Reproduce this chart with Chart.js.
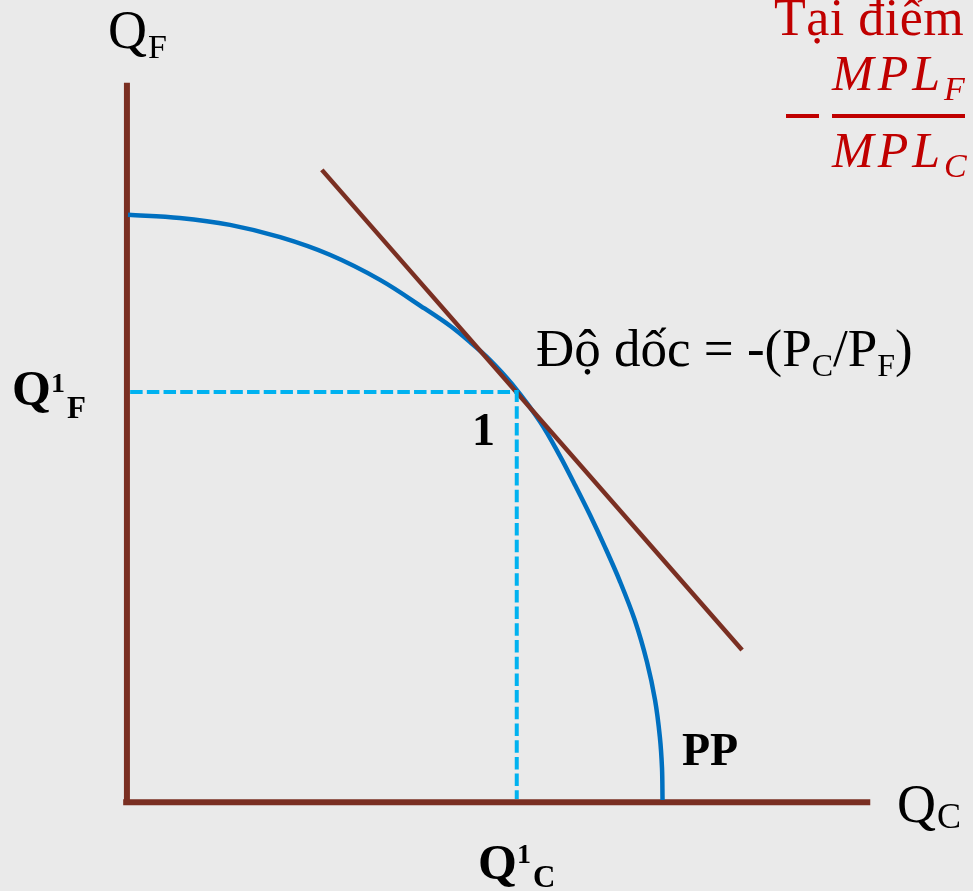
<!DOCTYPE html>
<html>
<head>
<meta charset="utf-8">
<script src="https://cdn.jsdelivr.net/npm/chart.js@4.4.1/dist/chart.umd.min.js"></script>
<style>
  html, body { margin: 0; padding: 0; background: #eaeaea; }
  #wrap { width: 973px; height: 891px; }
</style>
</head>
<body>
<div id="wrap"><canvas id="ppfChart" width="973" height="891"></canvas></div>
<script>
// production possibility frontier (Q_C across, Q_F up)
const ppQC = [0, 0.97, 1.91, 2.85, 3.78, 4.72, 5.56, 6.03, 6.40, 6.78, 7.19, 7.72, 8.09, 8.37,
              8.65, 8.93, 9.21, 9.49, 9.72, 9.87, 9.96, 10.0, 10.01];
const ppQF = [10.96, 10.90, 10.77, 10.54, 10.21, 9.74, 9.20, 8.88, 8.58, 8.24, 7.79, 7.08, 6.44, 5.90,
              5.34, 4.74, 4.10, 3.37, 2.58, 1.87, 1.18, 0.60, 0];

// price line touching the frontier at point 1
const tangentQC = [3.63, 11.50];
const tangentQF = [11.80, 2.81];

// point 1
const pointQC = [7.28];
const pointQF = [7.64];

// axis extents
const axisMaxQC = 13.9;
const axisMaxQF = 13.43;

const brown = '#7a2f22';
const blue = '#0070c0';
const lightBlue = '#00b2f0';

function toPoints(xs, ys) {
    return xs.map((x, i) => ({x: x, y: ys[i]}));
}

// text drawn as runs so sub/superscripts sit next to the main letter
function drawRuns(ctx, x, y, runs, color) {
    ctx.fillStyle = color || '#000';
    ctx.textBaseline = 'alphabetic';
    ctx.textAlign = 'left';
    runs.forEach(r => {
        ctx.font = r.font;
        ctx.letterSpacing = (r.spacing || 0) + 'px';
        ctx.fillText(r.text, x, y + (r.dy || 0));
        x += ctx.measureText(r.text).width + (r.gap || 0);
    });
    ctx.letterSpacing = '0px';
}

const serif = '"Liberation Serif", "Times New Roman", serif';

const labelPlugin = {
    id: 'ppfLabels',
    afterDatasetsDraw(chart) {
        const ctx = chart.ctx;
        ctx.save();
        // axis titles
        drawRuns(ctx, 108, 48, [
            {text: 'Q', font: '54px ' + serif, gap: 1},
            {text: 'F', font: '34px ' + serif, dy: 10}
        ]);
        drawRuns(ctx, 897, 822, [
            {text: 'Q', font: '54px ' + serif, gap: 1},
            {text: 'C', font: '36px ' + serif, dy: 6}
        ]);
        // values at point 1
        drawRuns(ctx, 12, 405, [
            {text: 'Q', font: 'bold 50px ' + serif},
            {text: '1', font: 'bold 28px ' + serif, dy: -13, gap: 2},
            {text: 'F', font: 'bold 31px ' + serif, dy: 13}
        ]);
        drawRuns(ctx, 478, 879, [
            {text: 'Q', font: 'bold 50px ' + serif},
            {text: '1', font: 'bold 28px ' + serif, dy: -16, gap: 2},
            {text: 'C', font: 'bold 31px ' + serif, dy: 8}
        ]);
        drawRuns(ctx, 472, 445, [{text: '1', font: 'bold 46px ' + serif}]);
        drawRuns(ctx, 682, 765, [{text: 'PP', font: 'bold 46px ' + serif}]);
        // slope note
        drawRuns(ctx, 536, 366, [
            {text: 'Độ dốc = -(P', font: '53px ' + serif},
            {text: 'C', font: '32px ' + serif, dy: 10},
            {text: '/P', font: '53px ' + serif},
            {text: 'F', font: '32px ' + serif, dy: 10},
            {text: ')', font: '53px ' + serif}
        ]);
        // MRT = -MPL_F / MPL_C, red
        const red = '#c00000';
        drawRuns(ctx, 774, 35, [{text: 'Tại điểm', font: '52px ' + serif, spacing: 0.5}], red);
        drawRuns(ctx, 832, 90, [
            {text: 'MPL', font: 'italic 50px ' + serif, spacing: 4},
            {text: 'F', font: 'italic 34px ' + serif, dy: 10}
        ], red);
        drawRuns(ctx, 832, 167, [
            {text: 'MPL', font: 'italic 50px ' + serif, spacing: 4},
            {text: 'C', font: 'italic 34px ' + serif, dy: 10}
        ], red);
        ctx.fillStyle = red;
        ctx.fillRect(786, 114, 33, 4);
        ctx.fillRect(832, 114, 133, 4);
        ctx.restore();
    }
};

const data = {
    datasets: [
        {
            label: 'Q_F axis',
            data: [{x: -0.02, y: -0.09}, {x: -0.02, y: axisMaxQF}],
            borderColor: brown,
            borderWidth: 6,
            order: 5
        },
        {
            label: 'Q_C axis',
            data: [{x: -0.09, y: -0.04}, {x: axisMaxQC, y: -0.04}],
            borderColor: brown,
            borderWidth: 6,
            order: 5
        },
        {
            label: 'Q1F guide',
            data: [{x: 0.04, y: pointQF[0]}, {x: pointQC[0], y: pointQF[0]}, {x: pointQC[0], y: 0.02}],
            borderColor: lightBlue,
            borderWidth: 4,
            borderDash: [12.5, 4.2],
            order: 1
        },
        {
            label: 'PP',
            data: toPoints(ppQC, ppQF),
            borderColor: blue,
            borderWidth: 4.5,
            tension: 0.35,
            order: 3
        },
        {
            label: 'price line',
            data: toPoints(tangentQC, tangentQF),
            borderColor: brown,
            borderWidth: 4.5,
            order: 2
        }
    ]
};

const config = {
    type: 'scatter',
    data: data,
    options: {
        responsive: false,
        animation: false,
        layout: {padding: 0},
        showLine: true,
        elements: {
            point: {radius: 0, hoverRadius: 0},
            line: {borderCapStyle: 'butt', fill: false}
        },
        scales: {
            x: {type: 'linear', min: -2.397, max: 15.824, display: false},
            y: {type: 'linear', min: -1.704, max: 14.981, display: false}
        },
        plugins: {
            legend: {display: false},
            tooltip: {enabled: false}
        }
    },
    plugins: [labelPlugin]
};

var ppfChart = new Chart(document.getElementById('ppfChart'), config);
</script>
</body>
</html>
